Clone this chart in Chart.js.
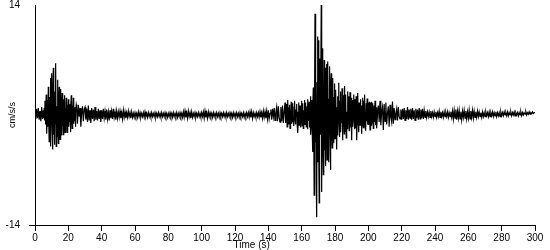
<!DOCTYPE html>
<html lang="en">
<head>
  <meta charset="UTF-8" />
  <title>Accelerogram</title>
  <script src="https://cdn.jsdelivr.net/npm/chart.js"></script>
  <style>
    body { margin: 0; background: #fff; }
    canvas { display: block; }
  </style>
</head>
<body>
  <canvas id="chart" width="550" height="250"></canvas>

  <script>
    const xRange = [0, 300];
    const xStep = 20;
    const yTicks = [-14, 14];

    // acceleration (cm/s/s), split in pieces.
    // quiet parts every 0.5 s, the two shaking phases every 0.25 s

    // 0 - 4.5 s, step 0.5
    const segA = [0.3, -0.5, 0.8, -0.4, 0.9, -0.6, 0.5, -0.8, 1.0, -0.5];

    // 5 - 24.75 s, step 0.25 (first arrival)
    const event1 = [
      0.6, -0.4, 0.9, -0.7, 1.8, -1.2, 0.5, 2.6, -2.4, -0.6, 1.9, -1.5, 3.6, -0.8, -3.4, 2.3, -0.5, 4.7, -4.0, 1.6,
      5.3, -1.0, -4.4, 2.2, 6.0, -2.5, 0.7, -3.8, 3.0, -1.2, 6.6, -4.0, 1.1, -2.7, 4.5, -0.9, -3.6, 2.1, 3.6, -2.0,
      -3.1, 1.4, 3.3, -0.6, -2.6, 2.8, -1.4, 0.5, -2.5, 2.0, -0.8, 2.5, -2.2, 0.9, -1.6, 2.2, -0.4, -2.2, 1.3, -1.0,
      2.0, -1.5, 0.3, -0.9, 1.4, -2.2, 0.8, 2.5, -0.6, -1.7, 1.2, -0.4, 2.2, -1.1, 0.5, -0.8, 1.0, -1.5, 0.4, 1.3
    ];

    // 25 - 149.5 s, step 0.5
    const segB = [
      1.0, -1.1, 1.3, -0.2, 0.9, -1.5, 0.3, 1.1, -0.8, 0.7,
      1.0, -0.6, 0.8, -0.9, 1.2, -0.7, 0.6, -1.0, 0.9, -0.5, 0.7, -0.8, 1.0, -0.6, 0.5, -0.7, 0.8, -0.5, 0.6, -0.9,
      0.6, -0.5, 0.8, -0.4, 0.5, -0.6, 0.7, -0.5, 0.4, -0.7, 0.6, -0.4, 0.5, -0.5, 0.8, -0.3, 0.4, -0.6, 0.5, -0.4,
      0.4, -0.3, 0.5, -0.4, 0.3, -0.5, 0.6, -0.3, 0.4, -0.4, 0.3, -0.3, 0.5, -0.2, 0.3, -0.4, 0.4, -0.3, 0.2, -0.3,
      0.3, -0.2, 0.2, -0.3, 0.4, -0.2, 0.3, -0.3, 0.2, -0.2, 0.3, -0.3, 0.4, -0.2, 0.2, -0.3, 0.3, -0.2, 0.2, -0.3,
      0.3, -0.2, 0.2, -0.2, 0.3, -0.3, 0.2, -0.2, 0.3, -0.2, 0.2, -0.3, 0.3, -0.2, 0.2, -0.2, 0.3, -0.2, 0.2, -0.3,
      0.2, -0.2, 0.3, -0.2, 0.2, -0.3, 0.3, -0.2, 0.2, -0.2, 0.3, -0.3, 0.2, -0.2, 0.3, -0.2, 0.2, -0.3, 0.4, -0.3,
      0.5, -0.3, 0.3, -0.4, 0.5, -0.2, 0.3, -0.4, 0.4, -0.3, 0.2, -0.2, 0.3, -0.3, 0.2, -0.2, 0.3, -0.2, 0.2, -0.3,
      0.3, -0.2, 0.4, -0.4, 0.5, -0.3, 0.3, -0.4, 0.4, -0.2, 0.3, -0.2, 0.2, -0.3, 0.3, -0.2, 0.2, -0.2, 0.3, -0.2,
      0.2, -0.3, 0.3, -0.2, 0.2, -0.2, 0.3, -0.2, 0.2, -0.3, 0.3, -0.2, 0.2, -0.2, 0.3, -0.2, 0.2, -0.3, 0.3, -0.2,
      0.2, -0.2, 0.3, -0.2, 0.2, -0.3, 0.3, -0.2, 0.2, -0.2, 0.3, -0.3, 0.2, -0.2, 0.3, -0.2, 0.3, -0.3, 0.4, -0.3,
      0.4, -0.4, 0.3, -0.2, 0.2, -0.3, 0.3, -0.2, 0.3, -0.3, 0.4, -0.3, 0.3, -0.4, 0.5, -0.3, 0.4, -0.4, 0.5, -0.5,
      0.6, -0.5, 0.2, 0.7, -0.6, 0.8, -0.2, 0.9, -0.7, 0.3, 1.0, -0.8, 1.1, -0.3, -0.9, 1.0, -0.8, 1.2, -1.0, 0.4
    ];

    // 150 - 204.75 s, step 0.25 (main shaking)
    const event2 = [
      1.6, -0.3, -1.0, 0.6, 1.4, -1.5, 0.2, 1.9, -0.8, -1.2, 0.9, 1.3, -1.7, 0.4, -0.6, 1.7, -1.1, 0.3, 1.5, -0.9,
      -0.3, -1.4, 1.0, 1.8, -0.5, -1.2, 0.7, -0.2, 1.4, -1.0, 0.4, -2.3, -0.6, 1.6, -1.3, 0.5, 1.2, -0.7, -1.6, 0.9,
      1.8, -1.4, 0.2, 1.5, -1.7, 0.6, -0.4, 1.9, -1.2, 0.3, 1.6, -1.5, -0.5, 1.1, -1.8, 2.0, -0.7, 0.4, 1.7, -1.6,
      0.6, 2.4, -2.5, -0.8, 1.9, -1.2, -4.7, 1.0, 3.5, -2.2, -10.2, 2.6, 12.9, -3.5, 5.0, -8.6, -13.0, 4.2, 10.0, -6.0,
      9.5, -4.0, -11.2, 3.0, 7.2, -2.5, 2.0, 14.0, -9.8, 4.5, 8.5, -3.0, -7.6, 1.5, 7.0, -4.5, -2.0, 6.0, -6.5, 2.5,
      6.5, -5.7, 0.8, 6.8, -3.0, -6.0, 2.0, 6.2, -1.0, -7.0, 3.5, 5.3, -2.5, -4.2, 1.2, 4.7, -1.5, -3.6, 2.2, 4.0,
      -3.0, 0.8, 3.2, -1.5, -4.4, 1.0, 2.4, -2.6, 0.3, 4.1, -0.5, -2.8, 1.8, 3.0, -2.2, 0.6, -1.0, 3.4, -3.2, 1.2,
      2.5, -0.8, -2.4, 3.7, -2.1, 0.5, 2.6, -2.9, 0.4, -1.1, 3.0, -1.8, 1.1, 2.4, -2.0, -0.4, 2.9, -0.6, -1.6, 2.2,
      -3.2, 1.0, 1.9, -1.5, 0.2, 2.6, -0.4, -1.8, 2.0, -1.7, 0.6, 2.4, -3.2, -1.2, 1.4, 2.8, -0.9, -2.2, 1.6, -0.3,
      -1.3, 2.0, -0.6, 1.2, -2.4, 0.5, 2.2, -1.0, -1.6, 1.8, -0.3, 2.6, -1.4, 0.4, -2.0, 1.5, -0.8, 2.1, -1.2, 0.3,
      -1.2, 1.6, 0.3, 1.7, -1.9, 1.6, -0.3, -1.3, 1.7, -1.0, 0.4, 1.5, -1.7, 0.2, 1.2, -0.9, 1.8, -1.3, 0.4, 1.0
    ];

    // 205 - 300 s, step 0.5 (coda)
    const segC = [
      -1.7, 0.2, 1.2, -0.9, 1.8, -1.3, 0.4, 1.0, -1.9, 1.4,
      -0.8, 1.6, -1.2, 0.2, 1.1, -1.5, 1.3, -0.3, -0.9, 1.7, -1.1, 0.9, -0.6, 0.2, 0.8, -0.7, 1.0, -0.2, -0.5, 0.7,
      -0.6, 0.8, -0.5, 0.9, -0.7, 0.6, -0.5, 1.0, -0.6, 0.7, -0.4, 0.8, -0.6, 0.9, -0.5, 0.6, -0.7, 0.8, -0.4, 0.7,
      -0.6, 0.9, -0.5, 0.7, -0.4, 0.8, -0.5, 0.6, -0.3, 0.5, -0.3, 0.4, -0.2, 0.4, -0.3, 0.5, -0.2, 0.3, -0.3, 0.4,
      -0.2, 0.4, -0.3, 0.3, -0.2, 0.5, -0.3, 0.4, -0.2, 0.3, -0.3, 0.4, -0.2, 0.3, -0.2, 0.4, -0.3, 0.3, -0.2, 0.4,
      -0.3, 0.5, -0.5, 0.6, -0.4, 0.7, -0.6, 0.5, -0.4, 0.6, -0.5, 0.4, -0.6, 0.5, -0.3, 0.6, -0.4, 0.5, -0.5, 0.4,
      -0.4, 0.6, -0.5, 0.5, -0.3, 0.6, -0.4, 0.5, -0.3, 0.4, -0.3, 0.5, -0.2, 0.4, -0.2, 0.3, -0.3, 0.4, -0.2, 0.3,
      -0.2, 0.4, -0.1, 0.3, -0.2, 0.4, -0.2, 0.3, -0.1, 0.4, -0.2, 0.3, -0.1, 0.4, -0.2, 0.3, -0.1, 0.3, -0.2, 0.4,
      -0.1, 0.3, -0.1, 0.4, 0.0, 0.3, -0.1, 0.4, -0.1, 0.3, 0.0, 0.4, -0.1, 0.3, 0.0, 0.4, -0.1, 0.3, 0.0, 0.3,
      -0.1, 0.3, 0.0, 0.4, -0.1, 0.3, 0.0, 0.3, 0.1, 0.4, 0.0, 0.3, 0.1, 0.4, 0.1, 0.3, 0.2, 0.4, 0.2, 0.3,
      0.3
    ];

    // [values, start time, sample step]
    const pieces = [
      [segA, 0, 0.5],
      [event1, 5, 0.25],
      [segB, 25, 0.5],
      [event2, 150, 0.25],
      [segC, 205, 0.5]
    ];

    const points = [];
    pieces.forEach(([vals, t0, dt]) => {
      vals.forEach((v, i) => points.push({ x: t0 + i * dt, y: v }));
    });

    Chart.defaults.font.family = '"Liberation Sans", Arial, sans-serif';
    Chart.defaults.font.size = 10;
    Chart.defaults.color = '#000';

    // x title sits left of centre in the original, so draw it by hand
    const xTitle = {
      id: 'xTitle',
      afterDraw(chart) {
        const c = chart.ctx;
        const xs = chart.scales.x;
        c.save();
        c.font = '10px "Liberation Sans", Arial, sans-serif';
        c.fillStyle = '#000';
        c.textAlign = 'center';
        c.textBaseline = 'middle';
        c.fillText('Time (s)', xs.getPixelForValue(130), 245);
        c.restore();
      }
    };

    const ctx = document.getElementById('chart').getContext('2d');
    new Chart(ctx, {
      type: 'line',
      data: {
        datasets: [{
          data: points,
          borderColor: '#000',
          borderWidth: 1.2,
          pointRadius: 0,
          tension: 0,
          fill: false
        }]
      },
      options: {
        responsive: false,
        animation: false,
        events: [],
        layout: { padding: { top: 5, right: 15, left: 0, bottom: 0 } },
        plugins: { legend: { display: false }, tooltip: { enabled: false } },
        scales: {
          x: {
            type: 'linear',
            min: xRange[0],
            max: xRange[1],
            afterFit(scale) {
              scale.height = 25;
              scale.paddingLeft = 0;
              scale.paddingRight = 0;
            },
            ticks: { stepSize: xStep, maxRotation: 0, autoSkip: false, padding: 1 },
            grid: { drawOnChartArea: false, tickLength: 6, color: '#000' },
            border: { color: '#000' }
          },
          y: {
            min: yTicks[0],
            max: yTicks[1],
            afterFit(scale) {
              scale.width = 35;
              scale.paddingTop = 0;
              scale.paddingBottom = 0;
            },
            afterBuildTicks(scale) { scale.ticks = yTicks.map(v => ({ value: v })); },
            ticks: { padding: 9 },
            grid: {
              drawOnChartArea: false,
              tickLength: 6,
              color: c => (c.tick && c.tick.value === yTicks[0]) ? '#000' : 'rgba(0,0,0,0)'
            },
            border: { color: '#000' },
            title: { display: true, text: 'cm/s/s', font: { size: 9 }, padding: { top: 7, bottom: 0 } }
          }
        }
      },
      plugins: [xTitle]
    });
  </script>
</body>
</html>
